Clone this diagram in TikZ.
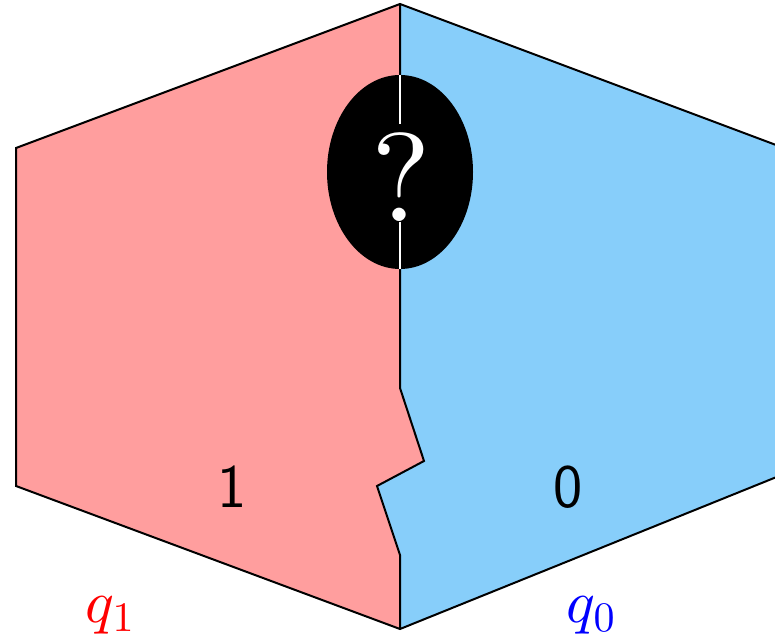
\documentclass[tikz,border=0pt]{standalone}
\usetikzlibrary{shapes.geometric}
\DeclareFontShape{OML}{cmm}{m}{it}{<->cmmi10}{}
\DeclareFontShape{OT1}{cmr}{m}{n}{<->cmr10}{}
\DeclareFontShape{OMS}{cmsy}{m}{n}{<->cmsy10}{}
\definecolor{lred}{RGB}{255,158,158}
\definecolor{lblue}{RGB}{135,206,250}
\begin{document}
\begin{tikzpicture}[x=1pt,y=-1pt,
  edge/.style={draw=black,line width=2pt,line join=miter},
  lbl/.style={font=\fontsize{62}{70}\selectfont\sffamily,inner sep=0pt},
  qlbl/.style={font=\fontsize{60}{70}\selectfont,inner sep=0pt}]
\useasboundingbox (0,0) rectangle (775,644);
\clip (0,0) rectangle (775,644);
% shared divider points
\coordinate (T) at (400,4);
\coordinate (B) at (400,629);
\coordinate (d1) at (400,388);
\coordinate (d2) at (424,461);
\coordinate (d3) at (377,486);
\coordinate (d4) at (400,555);
\coordinate (UL) at (16,148);
\coordinate (LL) at (16,486);
\coordinate (UR) at (784,148);
\coordinate (LR) at (784,474);
% fills
\fill[lred] (T) -- (UL) -- (LL) -- (B) -- (d4) -- (d3) -- (d2) -- (d1) -- cycle;
\fill[lblue] (T) -- (UR) -- (LR) -- (B) -- (d4) -- (d3) -- (d2) -- (d1) -- cycle;
% outline and divider
\draw[edge] (T) -- (UL) -- (LL) -- (B) -- (LR) -- (UR) -- cycle;
\draw[edge] (T) -- (d1) -- (d2) -- (d3) -- (d4) -- (B);
% black ellipse
\node[ellipse,fill=black,minimum width=146pt,minimum height=194pt,inner sep=0pt] (qm) at (400,172) {};
\draw[white,line width=2pt] (qm.north) -- (qm.south);
\node[anchor=base,fill=black,inner sep=0pt,text height=98pt,text depth=0pt,text=white,
  font=\fontencoding{OT1}\fontfamily{cmr}\fontsize{126}{130}\selectfont] (qmark) at (401,222) {?};
% labels
\node[lbl] (one) at (232,487) {1};
\node[lbl] (zero) at (568,487) {0};
\node[qlbl,text=red,anchor=base] (q1) at (110,622) {$q_1$};
\node[qlbl,text=blue,anchor=base] (q0) at (591,622) {$q_0$};
\end{tikzpicture}
\end{document}
